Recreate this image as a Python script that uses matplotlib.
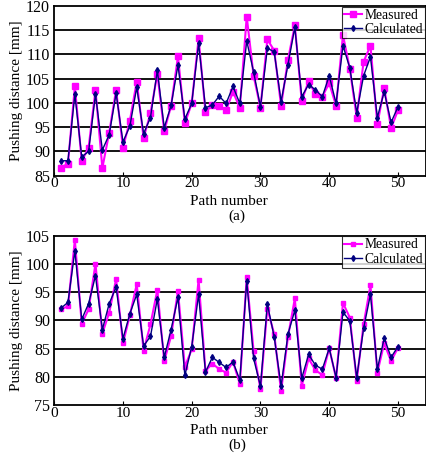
import matplotlib
matplotlib.use("Agg")
import matplotlib.pyplot as plt
import numpy as np

plt.rcParams['font.family'] = ['Liberation Serif', 'DejaVu Serif']
plt.rcParams['mathtext.fontset'] = 'stix'

path = np.arange(1, 51)

# (a) top panel
meas_a = [86.7, 87.5, 103.4, 88.0, 90.8, 102.7, 86.6, 93.9, 102.7, 90.8,
          96.3, 104.4, 92.8, 97.9, 106.0, 94.2, 99.4, 109.6, 95.8, 99.9,
          113.3, 98.1, 99.6, 99.4, 98.5, 102.3, 99.0, 117.8, 105.6, 99.0,
          113.1, 110.8, 99.4, 108.9, 116.0, 100.4, 104.5, 101.8, 101.3, 104.1,
          99.4, 114.0, 107.0, 97.0, 108.5, 111.8, 95.6, 103.1, 94.8, 98.5]
calc_a = [88.1, 88.1, 101.8, 88.9, 90.0, 101.8, 90.3, 93.5, 102.0, 92.0,
          95.2, 103.2, 93.7, 97.0, 106.7, 94.9, 99.5, 107.8, 96.7, 99.9,
          112.3, 99.0, 99.6, 101.4, 99.9, 103.4, 99.9, 112.8, 106.4, 99.2,
          111.3, 110.5, 100.3, 107.9, 115.6, 101.3, 103.8, 102.7, 101.3, 105.6,
          99.9, 111.8, 107.2, 98.0, 105.6, 109.5, 97.0, 102.3, 96.0, 99.2]

# (b) bottom panel
meas_b = [92.0, 92.5, 104.2, 89.4, 92.0, 100.0, 87.7, 91.4, 97.3, 86.0,
          90.9, 96.4, 84.7, 89.3, 95.4, 82.8, 87.3, 95.2, 81.8, 84.9,
          97.2, 81.1, 82.4, 81.4, 80.8, 82.7, 78.8, 97.6, 84.6, 77.9,
          92.1, 87.6, 77.5, 87.1, 93.9, 78.4, 83.3, 81.2, 80.4, 85.1,
          79.8, 93.1, 90.5, 79.4, 89.3, 96.2, 80.8, 86.0, 82.8, 85.2]
calc_b = [92.2, 93.2, 102.3, 90.2, 93.0, 97.9, 88.4, 93.0, 95.9, 86.8,
          91.2, 94.6, 85.5, 87.2, 93.8, 83.5, 88.4, 94.1, 80.3, 85.4,
          94.6, 80.9, 83.5, 82.6, 81.7, 82.7, 79.5, 97.0, 83.3, 78.4,
          92.9, 87.1, 78.4, 87.6, 91.8, 79.8, 84.0, 82.1, 81.4, 85.1,
          79.9, 91.5, 89.9, 79.9, 88.6, 94.6, 81.4, 86.9, 83.5, 85.4]

xticks = [0, 10, 20, 30, 40, 50]


def panel(ax, meas, calc, ylim, yticks, msize):
    ax.plot(path, meas, color='#ff00ff', lw=1.5, marker='s', ms=msize,
            label='Measured', zorder=3)
    ax.plot(path, calc, color='#000080', lw=1.0, marker='d', ms=3,
            label='Calculated', zorder=4)
    ax.set_xlim(0, 54.1)
    ax.set_ylim(*ylim)
    ax.set_xticks(xticks)
    ax.set_yticks(yticks)
    for y in yticks[1:-1]:
        ax.axhline(y, color='black', lw=1.3, zorder=1)
    ax.tick_params(axis='x', direction='in', length=3, labelsize=11, pad=1)
    ax.tick_params(axis='y', length=0, labelsize=11.5, pad=3)
    for s in ax.spines.values():
        s.set_linewidth(1.3)
    ax.set_ylabel('Pushing distance [mm]', fontsize=11, labelpad=2)
    leg = ax.legend(loc='upper right', fontsize=9.8, frameon=True,
                    fancybox=False, borderpad=0.15, handlelength=1.3,
                    handletextpad=0.2, labelspacing=0.1,
                    borderaxespad=0.05, edgecolor='black')
    leg.get_frame().set_linewidth(0.8)
    leg.set_zorder(5)


fig = plt.figure(figsize=(4.27, 4.53), dpi=100)
ax1 = fig.add_axes([0.127, 0.612, 0.871, 0.375])
ax2 = fig.add_axes([0.127, 0.105, 0.871, 0.375])

panel(ax1, meas_a, calc_a, (85, 120), [85, 90, 95, 100, 105, 110, 115, 120], 5)
panel(ax2, meas_b, calc_b, (75, 105), [75, 80, 85, 90, 95, 100, 105], 3.5)

fig.text(0.535, 0.556, 'Path number', fontsize=11, ha='center', va='center')
fig.text(0.555, 0.522, '(a)', fontsize=11, ha='center', va='center')
fig.text(0.535, 0.050, 'Path number', fontsize=11, ha='center', va='center')
fig.text(0.555, 0.016, '(b)', fontsize=11, ha='center', va='center')

fig.savefig('out.png', dpi=100)
